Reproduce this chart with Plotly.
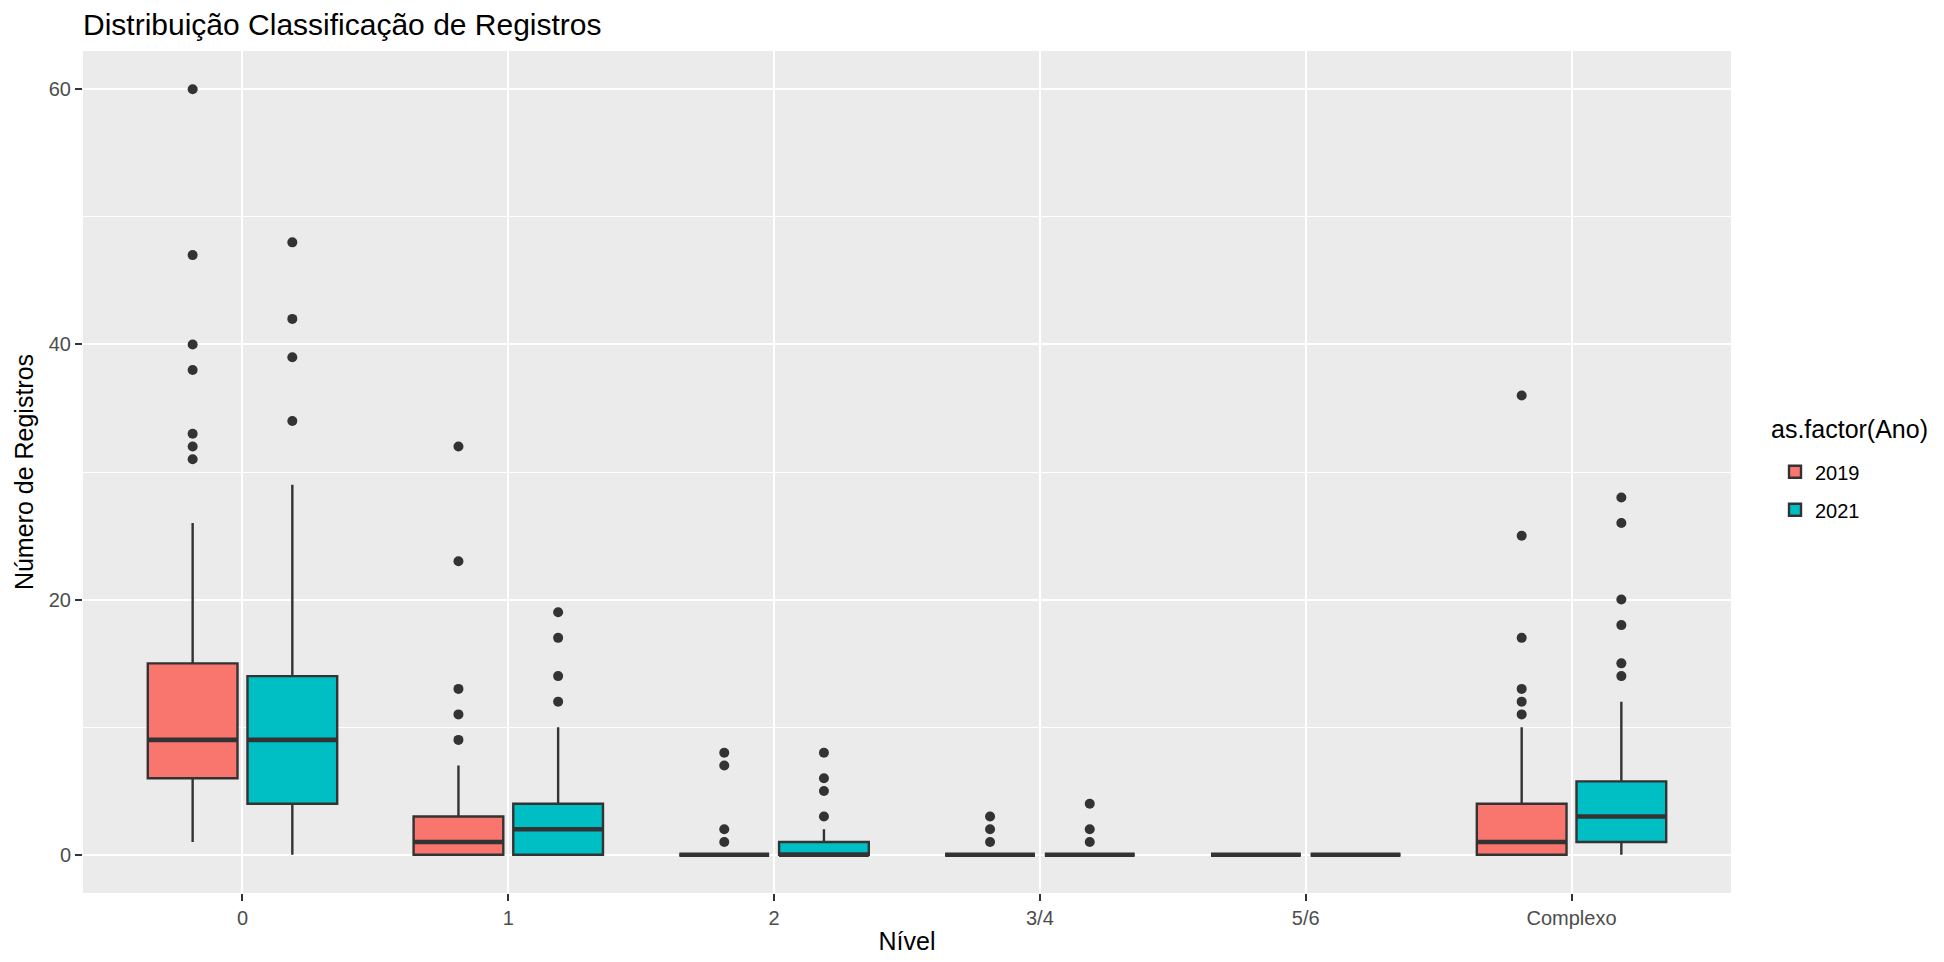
import plotly.graph_objects as go

categories = ["0", "1", "2", "3/4", "5/6", "Complexo"]

# 2019 box statistics
q1_2019 = [6, 0, 0, 0, 0, 0]
med_2019 = [9, 1, 0, 0, 0, 1]
q3_2019 = [15, 3, 0, 0, 0, 4]
lo_2019 = [1, 0, 0, 0, 0, 0]
hi_2019 = [26, 7, 0, 0, 0, 10]
out_cat_2019 = ["0"] * 7 + ["1"] * 5 + ["2"] * 4 + ["3/4"] * 3 + ["Complexo"] * 6
out_val_2019 = [60, 47, 40, 38, 33, 32, 31,
                32, 23, 13, 11, 9,
                8, 7, 2, 1,
                3, 2, 1,
                36, 25, 17, 13, 12, 11]

# 2021 box statistics
q1_2021 = [4, 0, 0, 0, 0, 1]
med_2021 = [9, 2, 0, 0, 0, 3]
q3_2021 = [14, 4, 1, 0, 0, 5.75]
lo_2021 = [0, 0, 0, 0, 0, 0]
hi_2021 = [29, 10, 2, 0, 0, 12]
out_cat_2021 = ["0"] * 4 + ["1"] * 4 + ["2"] * 4 + ["3/4"] * 3 + ["Complexo"] * 6
out_val_2021 = [48, 42, 39, 34,
                19, 17, 14, 12,
                8, 6, 5, 3,
                4, 2, 1,
                28, 26, 20, 18, 15, 14]

years = ["2019", "2021"]
colors = {"2019": "#F8766D", "2021": "#00BFC4"}
stats = {
    "2019": (q1_2019, med_2019, q3_2019, lo_2019, hi_2019, out_cat_2019, out_val_2019),
    "2021": (q1_2021, med_2021, q3_2021, lo_2021, hi_2021, out_cat_2021, out_val_2021),
}

FONT = "Liberation Sans, Arial, sans-serif"
OUTLINE = "#333333"

fig = go.Figure()
for yr in years:
    q1, med, q3, lo, hi, oc, ov = stats[yr]
    fig.add_trace(go.Box(
        x=categories, q1=q1, median=med, q3=q3, lowerfence=lo, upperfence=hi,
        name=yr, offsetgroup=yr, legendgroup=yr, fillcolor=colors[yr],
        line=dict(color=OUTLINE, width=2.4), whiskerwidth=0,
        boxpoints=False, hoverinfo="skip", showlegend=True,
    ))
for yr in years:
    q1, med, q3, lo, hi, oc, ov = stats[yr]
    # thicker median line (ggplot fatten)
    fig.add_trace(go.Box(
        x=categories, q1=med, median=med, q3=med, lowerfence=med, upperfence=med,
        name=yr + " median", offsetgroup=yr, legendgroup=yr, fillcolor="rgba(0,0,0,0)",
        line=dict(color=OUTLINE, width=4.6), whiskerwidth=0,
        boxpoints=False, hoverinfo="skip", showlegend=False,
    ))
for yr in years:
    q1, med, q3, lo, hi, oc, ov = stats[yr]
    fig.add_trace(go.Scatter(
        x=oc, y=ov, mode="markers", offsetgroup=yr, legendgroup=yr,
        marker=dict(color=OUTLINE, size=10),
        showlegend=False, hoverinfo="skip",
    ))

fig.update_layout(
    width=1944, height=962,
    margin=dict(l=75, r=221, t=43, b=77),
    paper_bgcolor="white",
    plot_bgcolor="#EBEBEB",
    boxmode="group", boxgap=0.25, boxgroupgap=0.1,
    scattermode="group", scattergap=0.25,
    font=dict(family=FONT, color="black"),
    title=dict(text="Distribuição Classificação de Registros",
               x=75 / 1944, xanchor="left", xref="container",
               y=1 - 16 / 962, yanchor="middle", yref="container",
               font=dict(size=30, color="black", family=FONT)),
    legend=dict(
        font=dict(size=20, color="black"),
        x=1.0267, xanchor="left", y=0.4777, yanchor="middle",
        bgcolor="white", traceorder="grouped", tracegroupgap=9,
    ),
    annotations=[dict(
        text="as.factor(Ano)", xref="paper", yref="paper",
        x=1.0231, y=0.5507, xanchor="left", yanchor="middle",
        showarrow=False, font=dict(size=25, color="black", family=FONT),
    )],
    xaxis=dict(
        type="category", categoryorder="array", categoryarray=categories,
        range=[-0.6, 5.6],
        showgrid=True, gridcolor="white", gridwidth=2.4,
        ticks="outside", ticklen=7, tickwidth=2.2, tickcolor=OUTLINE,
        tickfont=dict(size=20, color="#4D4D4D"),
        title=dict(text="Nível", font=dict(size=25, color="black"), standoff=4),
        zeroline=False, showline=False,
    ),
    yaxis=dict(
        range=[-3, 63], tickvals=[0, 20, 40, 60],
        showgrid=True, gridcolor="white", gridwidth=2.4,
        minor=dict(tickvals=[10, 30, 50], showgrid=True, gridcolor="white", gridwidth=1.2, ticks=""),
        ticks="outside", ticklen=7, tickwidth=2.2, tickcolor=OUTLINE,
        tickfont=dict(size=20, color="#4D4D4D"),
        title=dict(text="Número de Registros", font=dict(size=25, color="black"), standoff=8),
        zeroline=False, showline=False,
    ),
)

fig.write_html("out.html")
